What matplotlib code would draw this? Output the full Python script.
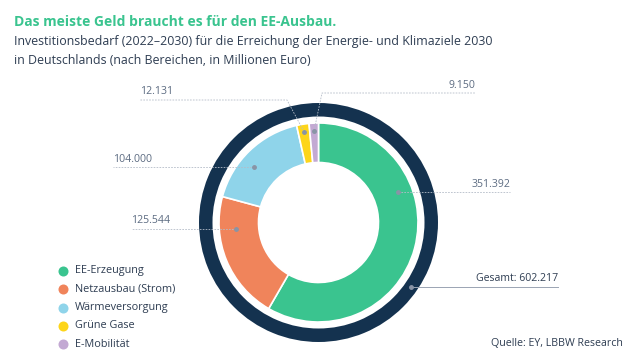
import numpy as np
import matplotlib
matplotlib.use('Agg')
import matplotlib.pyplot as plt

plt.rcParams['font.family'] = ['Open Sans', 'DejaVu Sans']

# data
categories = ['EE-Erzeugung', 'Netzausbau (Strom)', 'Wärmeversorgung', 'Grüne Gase', 'E-Mobilität']
values = [351392, 125544, 104000, 12131, 9150]
value_labels = ['351.392', '125.544', '104.000', '12.131', '9.150']
total_label = 'Gesamt: 602.217'
colors = ['#3ac48f', '#f0845b', '#8fd4ea', '#fdd51a', '#c3a9d3']

NAVY = '#14324f'
GREY = '#5d6c82'
DARK = '#2e3d52'
LEAD = '#b4bcc8'
H = 360

fig = plt.figure(figsize=(6.4, 3.6), dpi=100)
ax = fig.add_axes([0, 0, 1, 1])
cx, cy = 318.5, H - 222.5

wedges, _ = ax.pie(values, colors=colors, startangle=90, counterclock=False,
                   radius=99.5, center=(cx, cy),
                   wedgeprops=dict(width=39.5, edgecolor='white', linewidth=1.2))
ax.pie([1], colors=[NAVY], radius=119.5, center=(cx, cy),
       wedgeprops=dict(width=13.5, linewidth=0))
ax.set_xlim(0, 640)
ax.set_ylim(0, H)
ax.set_aspect('equal')
ax.axis('off')


def polar(ang, r):
    a = np.deg2rad(ang)
    return cx + r * np.cos(a), cy + r * np.sin(a)


# leader lines: (fraction along slice, radius, elbow in px or None, end x, text alignment)
leaders = [
    (0.33, 85, None, 510, 'right'),
    (0.74, 83, None, 131, 'left'),
    (0.41, 85, None, 113, 'left'),
    (0.5, 92, (287, 100), 140, 'left'),
    (0.5, 92, (322, 93), 475, 'right'),
]
for w, lab, (f, r, elbow, xend, ha) in zip(wedges, value_labels, leaders):
    ang = w.theta2 - f * (w.theta2 - w.theta1)
    x0, y0 = polar(ang, r)
    xs, ys = [x0], [y0]
    if elbow:
        xs.append(elbow[0]); ys.append(H - elbow[1])
    ly = ys[-1]
    xs.append(xend); ys.append(ly)
    ax.plot(xs, ys, color=LEAD, lw=0.6, ls=(0, (2, 1.5)), zorder=5)
    ax.plot(x0, y0, 'o', ms=2.5, color='#8994a6', zorder=6)
    ax.text(xend, ly + 8, lab, ha=ha, va='center', fontsize=7.6, color=GREY)

# total on the outer ring
gx, gy = polar(-35, 112.75)
ax.plot([gx, 558], [gy, gy], color='#9aa4b3', lw=0.7, zorder=5)
ax.plot(gx, gy, 'o', ms=2.5, color='#8994a6', zorder=6)
ax.text(558, gy + 9, total_label, ha='right', va='center', fontsize=7.6, color=DARK)

# legend
for i, (cat, c) in enumerate(zip(categories, colors)):
    yy = H - (271 + 18.3 * i)
    ax.scatter(63, yy, s=52, color=c, lw=0, zorder=5)
    ax.text(75, yy, cat, ha='left', va='center', fontsize=7.8, color=DARK)

fig.text(14 / 640, 1 - 22 / H, 'Das meiste Geld braucht es für den EE-Ausbau.',
         fontsize=10, fontweight='bold', color='#3ac48f', va='center')
fig.text(14 / 640, 1 - 42 / H,
         'Investitionsbedarf (2022–2030) für die Erreichung der Energie- und Klimaziele 2030',
         fontsize=8.9, color=DARK, va='center')
fig.text(14 / 640, 1 - 60 / H, 'in Deutschlands (nach Bereichen, in Millionen Euro)',
         fontsize=8.9, color=DARK, va='center')
fig.text(623 / 640, 1 - 344 / H, 'Quelle: EY, LBBW Research',
         fontsize=7.7, color=DARK, ha='right', va='center')

fig.savefig('out.png', dpi=100, facecolor='white')
